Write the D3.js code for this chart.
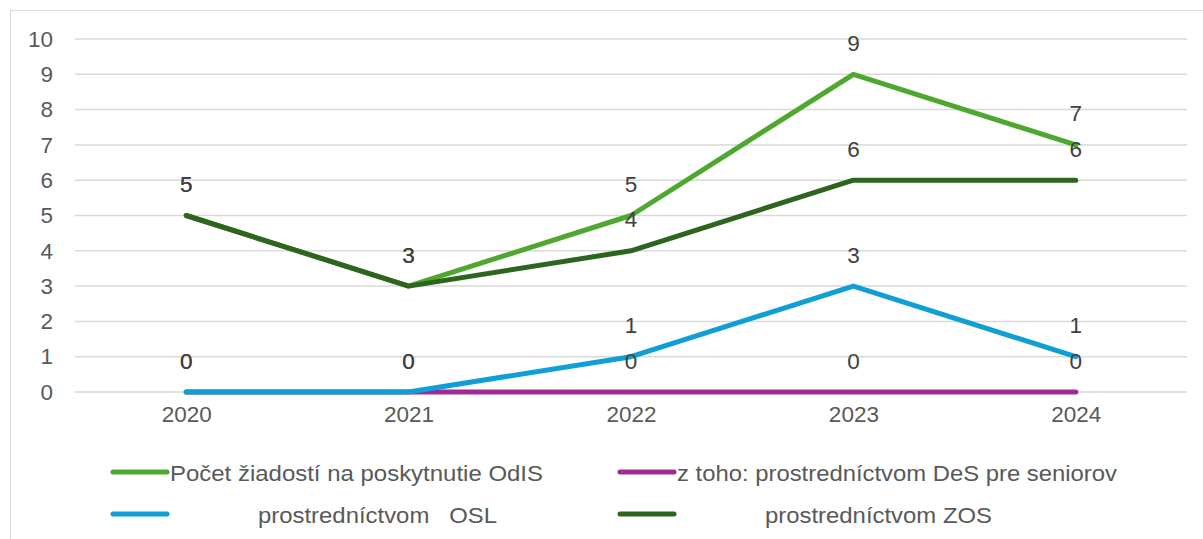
<!DOCTYPE html>
<html><head><meta charset="utf-8">
<script src="https://cdn.jsdelivr.net/npm/d3@7"></script>
<style>
html,body{margin:0;padding:0;background:#fff;}
svg{display:block;font-family:"Liberation Sans",Arial,sans-serif;}
</style></head>
<body>
<svg id="c" width="1203" height="539"></svg>
<script>
const years = ["2020","2021","2022","2023","2024"];
const seriesNames = [
  "Počet žiadostí na poskytnutie OdIS",
  "z toho: prostredníctvom DeS pre seniorov",
  "prostredníctvom   OSL",
  "prostredníctvom ZOS"
];
const seriesColors = ["#4EA72E","#A02B93","#0F9ED5","#2E651E"];
const valuesOdIS = [5,3,5,9,7];
const valuesDeS = [0,0,0,0,0];
const valuesOSL = [0,0,1,3,1];
const valuesZOS = [5,3,4,6,6];
const yTicks = [0,1,2,3,4,5,6,7,8,9,10];

const allValues = [valuesOdIS, valuesDeS, valuesOSL, valuesZOS];
const svg = d3.select("#c");
const FS = 22.5;

svg.append("rect").attr("x",10.5).attr("y",10.5).attr("width",1250).attr("height",600)
  .attr("fill","none").attr("stroke","#d9d9d9").attr("stroke-width",1);

const x = d3.scalePoint().domain(years).range([75,1187]).padding(0.5);
const y = d3.scaleLinear().domain([0,10]).range([392,39]);

// gridlines
svg.append("g").selectAll("line").data(yTicks).join("line")
  .attr("x1",75).attr("x2",1187)
  .attr("y1",d=>y(d)).attr("y2",d=>y(d))
  .attr("stroke","#d9d9d9").attr("stroke-width",1.5);

// y axis labels
const yAxis = d3.axisLeft(y).tickValues(yTicks).tickSize(0).tickPadding(0);
const gy = svg.append("g").attr("transform","translate(53,0)").call(yAxis);
gy.select(".domain").remove();
gy.selectAll("text").attr("font-size",FS).attr("fill","#595959")
  .attr("font-family","Liberation Sans, Arial, sans-serif");

// x axis labels
const xAxis = d3.axisBottom(x).tickSize(0).tickPadding(0);
const gx = svg.append("g").attr("transform","translate(0,411)").call(xAxis);
gx.select(".domain").remove();
gx.selectAll("text").attr("font-size",FS).attr("fill","#595959").attr("dy","0.5em")
  .attr("font-family","Liberation Sans, Arial, sans-serif");

const line = d3.line().x((d,i)=>x(years[i])).y(d=>y(d));
allValues.forEach((vals,k)=>{
  svg.append("path").datum(vals).attr("d",line)
    .attr("fill","none").attr("stroke",seriesColors[k]).attr("stroke-width",5)
    .attr("stroke-linecap","round").attr("stroke-linejoin","round");
});

// data labels
allValues.forEach((vals,k)=>{
  svg.append("g").selectAll("text").data(vals).join("text")
    .attr("x",(d,i)=>x(years[i])).attr("y",d=>y(d)-31)
    .attr("text-anchor","middle").attr("dominant-baseline","central")
    .attr("font-size",FS).attr("fill","#404040")
    .text(d=>d);
});

// legend
const legPos = [
  {sx:113, tx:170, y:472, w:373},
  {sx:620, tx:677, y:472, w:440},
  {sx:113, tx:258, y:514, w:239},
  {sx:620, tx:765, y:514, w:227}
];
seriesNames.forEach((n,k)=>{
  const p = legPos[k];
  svg.append("line").attr("x1",p.sx).attr("x2",p.sx+54).attr("y1",p.y).attr("y2",p.y)
    .attr("stroke",seriesColors[k]).attr("stroke-width",5).attr("stroke-linecap","round");
  svg.append("text").attr("x",p.tx).attr("y",p.y+1).attr("dominant-baseline","central")
    .attr("font-size",FS).attr("fill","#595959").style("white-space","pre")
    .attr("textLength",p.w).attr("lengthAdjust","spacingAndGlyphs")
    .text(n);
});
</script>
</body></html>
